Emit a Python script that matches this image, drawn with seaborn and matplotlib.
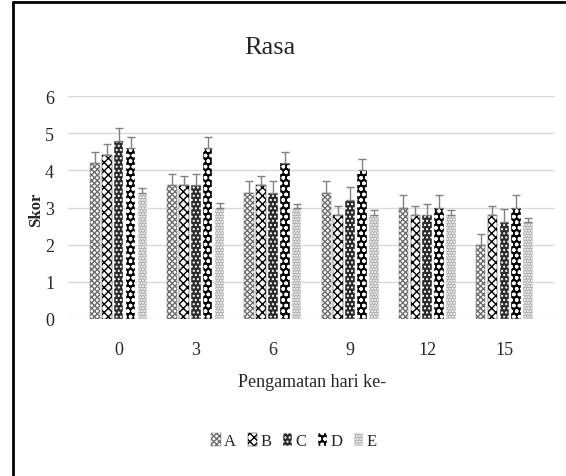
import matplotlib.pyplot as plt
import numpy as np
import pandas as pd
import seaborn as sns
from matplotlib.lines import Line2D

# data
hari = ["0", "3", "6", "9", "12", "15"]
perlakuan = ["A", "B", "C", "D", "E"]

skor_a = [4.2, 3.6, 3.4, 3.4, 3.0, 2.0]
skor_b = [4.4, 3.6, 3.6, 2.8, 2.8, 2.8]
skor_c = [4.8, 3.6, 3.4, 3.2, 2.8, 2.6]
skor_d = [4.6, 4.6, 4.2, 4.0, 3.0, 3.0]
skor_e = [3.4, 3.0, 3.0, 2.8, 2.8, 2.6]

err_a = [0.3, 0.3, 0.3, 0.3, 0.33, 0.3]
err_b = [0.3, 0.25, 0.25, 0.25, 0.25, 0.25]
err_c = [0.35, 0.3, 0.3, 0.35, 0.3, 0.35]
err_d = [0.3, 0.3, 0.3, 0.3, 0.33, 0.33]
err_e = [0.12, 0.12, 0.1, 0.12, 0.12, 0.12]

skor = [skor_a, skor_b, skor_c, skor_d, skor_e]
galat = [err_a, err_b, err_c, err_d, err_e]

df = pd.DataFrame({
    "hari": hari * len(perlakuan),
    "perlakuan": np.repeat(perlakuan, len(hari)),
    "skor": np.concatenate(skor),
})

sns.set_style("white")
plt.rcParams["font.family"] = ["Liberation Serif", "DejaVu Serif"]
plt.rcParams["hatch.linewidth"] = 1.0

fig = plt.figure(figsize=(5.66, 4.77), dpi=100)
ax = fig.add_axes([68 / 566, 1 - 320 / 477, 487 / 566, 223 / 477])

sns.barplot(data=df, x="hari", y="skor", hue="perlakuan", order=hari,
            hue_order=perlakuan, width=0.77, gap=0.2, errorbar=None,
            legend=False, ax=ax)

# pola arsiran tiap perlakuan (hitam-putih)
gaya = [
    dict(facecolor="white", edgecolor="#6e6e6e", hatch="xxxxxx"),
    dict(facecolor="white", edgecolor="black", hatch="xxxx"),
    dict(facecolor="#2a2a2a", edgecolor="white", hatch="...."),
    dict(facecolor="black", edgecolor="white", hatch="ooo"),
    dict(facecolor="#b0b0b0", edgecolor="white", hatch="......"),
]

handles = []
for cont, g, err in zip(ax.containers, gaya, galat):
    xs, hs = [], []
    for bar in cont:
        bar.set_facecolor(g["facecolor"])
        bar.set_edgecolor(g["edgecolor"])
        bar.set_hatch(g["hatch"])
        bar.set_linewidth(0.3)
        xs.append(bar.get_x() + bar.get_width() / 2)
        hs.append(bar.get_height())
    ax.errorbar(xs, hs, yerr=[np.zeros(len(err)), err], fmt="none",
                ecolor="#808080", elinewidth=1, capsize=3, capthick=1)
    handles.append(cont[0])

ax.set_ylim(0, 6)
ax.set_yticks(range(7))
ax.yaxis.grid(True, color="#d9d9d9", lw=1)
ax.set_axisbelow(True)
for s in ax.spines.values():
    s.set_visible(False)
ax.tick_params(axis="both", length=0, labelsize=13)
ax.tick_params(axis="x", pad=16)
ax.tick_params(axis="y", pad=10)
ax.set_xlabel("")
ax.set_ylabel("")

fig.text(270 / 566, 1 - 48 / 477, "Rasa", ha="center", va="center", fontsize=19)
fig.text(312 / 566, 1 - 383 / 477, "Pengamatan hari ke-", ha="center",
         va="center", fontsize=13)
fig.text(36 / 566, 1 - 210 / 477, "Skor", ha="center", va="center",
         rotation=90, fontsize=12, fontweight="bold")

fig.legend(handles, perlakuan, loc="center",
           bbox_to_anchor=(294 / 566, 1 - 442 / 477), ncol=5, frameon=False,
           handlelength=0.55, handleheight=0.8, handletextpad=0.2,
           columnspacing=0.7, fontsize=12)

# bingkai grafik
fig.add_artist(Line2D([13 / 566, 13 / 566], [0, 1 - 3 / 477],
                      color="black", lw=2, transform=fig.transFigure))
fig.add_artist(Line2D([13 / 566, 1], [1 - 3 / 477, 1 - 3 / 477],
                      color="black", lw=2, transform=fig.transFigure))

fig.savefig("out.png", dpi=100)
